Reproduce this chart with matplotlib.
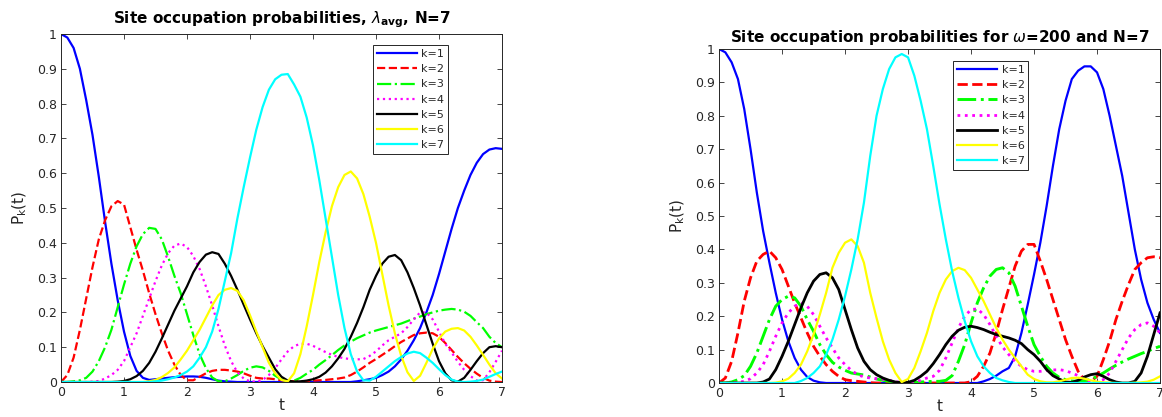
import numpy as np
import matplotlib.pyplot as plt

# sample times 0.0 ... 7.0
t = np.round(np.arange(71) * 0.1, 1)

labels = ['k=1', 'k=2', 'k=3', 'k=4', 'k=5', 'k=6', 'k=7']

# ---- left panel: lambda_avg ----
left_k1 = [1.0, 0.99, 0.96, 0.90, 0.81, 0.71, 0.59, 0.46, 0.34, 0.235,
           0.145, 0.075, 0.032, 0.012, 0.006, 0.008, 0.01, 0.012, 0.014, 0.015,
           0.016, 0.016, 0.015, 0.012, 0.008, 0.004, 0.002, 0.001, 0, 0,
           0, 0, 0, 0, 0, 0, 0, 0, 0, 0,
           0, 0, 0, 0, 0, 0, 0, 0.002, 0.005, 0.008,
           0.012, 0.02, 0.03, 0.045, 0.065, 0.09, 0.12, 0.155, 0.2, 0.25,
           0.31, 0.375, 0.44, 0.5, 0.55, 0.595, 0.63, 0.655, 0.668, 0.672,
           0.67]
left_k2 = [0, 0.02, 0.07, 0.15, 0.24, 0.33, 0.41, 0.465, 0.505, 0.52,
           0.51, 0.445, 0.38, 0.32, 0.255, 0.195, 0.14, 0.09, 0.05, 0.02,
           0.005, 0.005, 0.015, 0.025, 0.032, 0.035, 0.035, 0.033, 0.03, 0.025,
           0.018, 0.012, 0.01, 0.01, 0.008, 0.005, 0.003, 0.002, 0.002, 0.003,
           0.004, 0.005, 0.006, 0.008, 0.01, 0.013, 0.02, 0.03, 0.042, 0.055,
           0.066, 0.078, 0.09, 0.103, 0.115, 0.125, 0.135, 0.14, 0.142, 0.14,
           0.13, 0.112, 0.092, 0.072, 0.054, 0.038, 0.024, 0.012, 0.004, 0.001,
           0]
left_k3 = [0, 0, 0.002, 0.005, 0.012, 0.03, 0.06, 0.1, 0.15, 0.215,
           0.28, 0.34, 0.39, 0.425, 0.443, 0.44, 0.41, 0.36, 0.305, 0.255,
           0.195, 0.135, 0.08, 0.04, 0.013, 0.002, 0.002, 0.01, 0.02, 0.032,
           0.041, 0.045, 0.042, 0.032, 0.018, 0.007, 0.002, 0.004, 0.012, 0.024,
           0.035, 0.05, 0.063, 0.077, 0.092, 0.105, 0.116, 0.126, 0.134, 0.142,
           0.148, 0.153, 0.158, 0.163, 0.168, 0.175, 0.182, 0.188, 0.195, 0.2,
           0.205, 0.208, 0.21, 0.208, 0.202, 0.19, 0.172, 0.155, 0.13, 0.112,
           0.1]
left_k4 = [0, 0, 0, 0, 0, 0.001, 0.003, 0.01, 0.02, 0.035,
           0.06, 0.1, 0.14, 0.19, 0.24, 0.29, 0.335, 0.37, 0.392, 0.398,
           0.388, 0.362, 0.325, 0.275, 0.22, 0.16, 0.105, 0.06, 0.028, 0.01,
           0.002, 0.001, 0.006, 0.02, 0.04, 0.065, 0.088, 0.103, 0.11, 0.11,
           0.104, 0.095, 0.086, 0.078, 0.072, 0.068, 0.066, 0.065, 0.066, 0.075,
           0.088, 0.105, 0.12, 0.13, 0.14, 0.158, 0.18, 0.2, 0.2, 0.18,
           0.145, 0.11, 0.085, 0.058, 0.035, 0.017, 0.004, 0.005, 0.028, 0.058,
           0.09]
left_k5 = [0, 0, 0, 0, 0, 0, 0, 0, 0, 0.001,
           0.003, 0.008, 0.017, 0.032, 0.055, 0.087, 0.125, 0.165, 0.205, 0.24,
           0.275, 0.315, 0.345, 0.366, 0.373, 0.368, 0.34, 0.305, 0.265, 0.222,
           0.18, 0.14, 0.103, 0.07, 0.037, 0.015, 0.004, 0.001, 0.002, 0.004,
           0.008, 0.015, 0.027, 0.045, 0.068, 0.095, 0.13, 0.17, 0.215, 0.265,
           0.305, 0.34, 0.36, 0.365, 0.35, 0.315, 0.27, 0.22, 0.165, 0.11,
           0.06, 0.025, 0.005, 0.001, 0.012, 0.035, 0.06, 0.083, 0.1, 0.103,
           0.1]
left_k6 = [0, 0, 0, 0, 0, 0, 0, 0, 0, 0,
           0, 0, 0, 0, 0.002, 0.006, 0.014, 0.026, 0.042, 0.065,
           0.09, 0.12, 0.15, 0.185, 0.22, 0.25, 0.265, 0.27, 0.262, 0.235,
           0.192, 0.145, 0.1, 0.055, 0.025, 0.006, 0.002, 0.025, 0.08, 0.16,
           0.25, 0.345, 0.43, 0.505, 0.56, 0.595, 0.605, 0.585, 0.54, 0.475,
           0.4, 0.31, 0.22, 0.14, 0.075, 0.028, 0.003, 0.018, 0.055, 0.095,
           0.125, 0.145, 0.153, 0.155, 0.148, 0.13, 0.105, 0.078, 0.05, 0.025,
           0.01]
left_k7 = [0, 0, 0, 0, 0, 0, 0, 0, 0, 0,
           0, 0, 0, 0, 0, 0.002, 0.004, 0.008, 0.013, 0.02,
           0.03, 0.045, 0.07, 0.1, 0.145, 0.21, 0.29, 0.37, 0.47, 0.56,
           0.645, 0.725, 0.79, 0.84, 0.87, 0.883, 0.885, 0.855, 0.82, 0.76,
           0.68, 0.58, 0.47, 0.36, 0.25, 0.155, 0.08, 0.03, 0.005, 0.004,
           0.015, 0.03, 0.045, 0.06, 0.072, 0.082, 0.087, 0.083, 0.07, 0.055,
           0.037, 0.02, 0.007, 0.001, 0, 0.001, 0.003, 0.007, 0.015, 0.023,
           0.03]

# ---- right panel: omega = 200 ----
right_k1 = [1.0, 0.99, 0.96, 0.91, 0.82, 0.70, 0.57, 0.455, 0.36, 0.27,
            0.19, 0.125, 0.075, 0.04, 0.018, 0.007, 0.002, 0, 0, 0,
            0, 0, 0, 0, 0, 0, 0, 0, 0, 0,
            0, 0, 0, 0, 0, 0, 0, 0, 0, 0,
            0, 0, 0.005, 0.012, 0.022, 0.035, 0.045, 0.08, 0.15, 0.235,
            0.325, 0.42, 0.53, 0.65, 0.76, 0.845, 0.91, 0.935, 0.948, 0.948,
            0.93, 0.88, 0.80, 0.71, 0.62, 0.51, 0.40, 0.31, 0.24, 0.19,
            0.15]
right_k2 = [0, 0.015, 0.065, 0.15, 0.245, 0.315, 0.365, 0.385, 0.395, 0.375,
            0.34, 0.29, 0.24, 0.195, 0.15, 0.11, 0.08, 0.055, 0.035, 0.02,
            0.01, 0.007, 0.005, 0.003, 0.001, 0, 0, 0, 0, 0,
            0, 0, 0, 0, 0, 0, 0, 0, 0, 0,
            0.004, 0.02, 0.05, 0.09, 0.15, 0.22, 0.285, 0.35, 0.395, 0.415,
            0.415, 0.365, 0.31, 0.25, 0.19, 0.13, 0.08, 0.035, 0.01, 0.005,
            0.02, 0.07, 0.125, 0.19, 0.245, 0.295, 0.34, 0.36, 0.375, 0.378,
            0.375]
right_k3 = [0, 0, 0.003, 0.01, 0.022, 0.05, 0.09, 0.14, 0.19, 0.23,
            0.25, 0.26, 0.255, 0.23, 0.19, 0.155, 0.115, 0.085, 0.062, 0.048,
            0.038, 0.03, 0.027, 0.024, 0.018, 0.012, 0.008, 0.005, 0.003, 0.001,
            0, 0.001, 0.003, 0.004, 0.005, 0.005, 0.008, 0.022, 0.065, 0.115,
            0.18, 0.24, 0.285, 0.32, 0.34, 0.345, 0.33, 0.29, 0.23, 0.17,
            0.115, 0.08, 0.05, 0.03, 0.017, 0.01, 0.006, 0.005, 0.007, 0.01,
            0.02, 0.03, 0.042, 0.053, 0.063, 0.072, 0.08, 0.088, 0.095, 0.103,
            0.11]
right_k4 = [0, 0, 0, 0.002, 0.005, 0.013, 0.03, 0.055, 0.095, 0.14,
            0.18, 0.21, 0.23, 0.24, 0.23, 0.205, 0.17, 0.135, 0.105, 0.075,
            0.055, 0.038, 0.025, 0.018, 0.015, 0.013, 0.011, 0.008, 0.004, 0.001,
            0.001, 0.003, 0.008, 0.015, 0.02, 0.038, 0.075, 0.12, 0.165, 0.2,
            0.22, 0.222, 0.205, 0.175, 0.14, 0.108, 0.085, 0.065, 0.05, 0.04,
            0.035, 0.035, 0.037, 0.039, 0.04, 0.037, 0.03, 0.022, 0.012, 0.004,
            0.002, 0.01, 0.03, 0.065, 0.1, 0.135, 0.16, 0.175, 0.18, 0.17,
            0.15]
right_k5 = [0, 0, 0, 0, 0, 0, 0, 0.003, 0.012, 0.04,
            0.08, 0.125, 0.175, 0.225, 0.27, 0.305, 0.325, 0.33, 0.315, 0.28,
            0.22, 0.16, 0.105, 0.065, 0.04, 0.025, 0.015, 0.008, 0.003, 0.001,
            0.002, 0.008, 0.02, 0.035, 0.058, 0.085, 0.115, 0.14, 0.158, 0.167,
            0.17, 0.166, 0.16, 0.152, 0.145, 0.14, 0.135, 0.128, 0.118, 0.1,
            0.085, 0.065, 0.04, 0.022, 0.012, 0.003, 0.002, 0.008, 0.018, 0.025,
            0.028, 0.02, 0.01, 0.003, 0, 0, 0.005, 0.03, 0.08, 0.145,
            0.21]
right_k6 = [0, 0, 0, 0, 0, 0, 0, 0, 0, 0.001,
            0.005, 0.013, 0.03, 0.055, 0.095, 0.145, 0.205, 0.27, 0.345, 0.39,
            0.42, 0.43, 0.41, 0.36, 0.27, 0.195, 0.125, 0.07, 0.03, 0.003,
            0.012, 0.045, 0.095, 0.15, 0.215, 0.27, 0.31, 0.335, 0.345, 0.338,
            0.315, 0.28, 0.245, 0.205, 0.165, 0.13, 0.1, 0.075, 0.05, 0.025,
            0.012, 0.005, 0.002, 0.002, 0.005, 0.01, 0.015, 0.016, 0.013, 0.008,
            0.004, 0.002, 0.001, 0, 0, 0, 0.001, 0.002, 0.004, 0.01,
            0.02]
right_k7 = [0, 0, 0, 0, 0, 0, 0, 0, 0, 0,
            0, 0, 0, 0.006, 0.015, 0.03, 0.05, 0.085, 0.13, 0.19,
            0.26, 0.34, 0.43, 0.54, 0.68, 0.8, 0.88, 0.94, 0.975, 0.985,
            0.975, 0.92, 0.845, 0.76, 0.65, 0.535, 0.43, 0.335, 0.255, 0.185,
            0.125, 0.08, 0.05, 0.03, 0.015, 0.008, 0.003, 0, 0, 0,
            0, 0, 0, 0, 0, 0, 0, 0, 0, 0,
            0, 0, 0, 0, 0, 0, 0, 0, 0, 0,
            0]

left_series = [left_k1, left_k2, left_k3, left_k4, left_k5, left_k6, left_k7]
right_series = [right_k1, right_k2, right_k3, right_k4, right_k5, right_k6, right_k7]

colors = ['#0000ff', '#ff0000', '#00ff00', '#ff00ff', '#000000', '#ffff00', '#00ffff']
styles = ['-', '--', '-.', ':', '-', '-', '-']

xticks = [0, 1, 2, 3, 4, 5, 6, 7]
yticks = [0, 0.1, 0.2, 0.3, 0.4, 0.5, 0.6, 0.7, 0.8, 0.9, 1]
ytick_labels = ['0', '0.1', '0.2', '0.3', '0.4', '0.5', '0.6', '0.7', '0.8', '0.9', '1']

GREY = '#262626'


def draw_panel(ax, series, widths, title, title_pad, legend_anchor):
    for y, c, ls, lw, lab in zip(series, colors, styles, widths, labels):
        ax.plot(t, y, color=c, linestyle=ls, linewidth=lw, label=lab)
    ax.set_xlim(0, 7)
    ax.set_ylim(0, 1)
    ax.set_xticks(xticks)
    ax.set_xticklabels([str(v) for v in xticks])
    ax.set_yticks(yticks)
    ax.set_yticklabels(ytick_labels)
    ax.tick_params(direction='in', length=3.5, width=0.6, top=True, right=True,
                   colors=GREY, labelsize=9, pad=3)
    for sp in ax.spines.values():
        sp.set_color(GREY)
        sp.set_linewidth(0.7)
    ax.set_xlabel('t', fontsize=11, color=GREY, labelpad=-1)
    ax.set_ylabel(r'$\mathregular{P_k(t)}$', fontsize=11, color=GREY, labelpad=6)
    ax.set_title(title, fontsize=11, fontweight='bold', pad=title_pad)
    leg = ax.legend(loc='upper left', bbox_to_anchor=legend_anchor, borderaxespad=0,
                    fontsize=8, handlelength=3.6, handletextpad=0.4,
                    labelspacing=0.47, borderpad=0.35, fancybox=False,
                    framealpha=1, edgecolor=GREY)
    leg.get_frame().set_linewidth(0.7)
    for txt in leg.get_texts():
        txt.set_color(GREY)


fig = plt.figure(figsize=(11.62, 4.17), dpi=100)
ax1 = fig.add_axes([0.0525, 0.0839, 0.3795, 0.8345])
ax2 = fig.add_axes([0.6188, 0.0815, 0.3795, 0.801])

draw_panel(ax1, left_series, [1.6] * 7,
           r'Site occupation probabilities, $\lambda_{\mathbf{avg}}$, N=7',
           8, (0.707, 0.968))
draw_panel(ax2, right_series, [1.6, 2.0, 2.1, 2.0, 2.0, 1.6, 1.6],
           r'Site occupation probabilities for $\omega$=200 and N=7',
           5, (0.531, 0.964))

fig.savefig('out.png', dpi=100)
